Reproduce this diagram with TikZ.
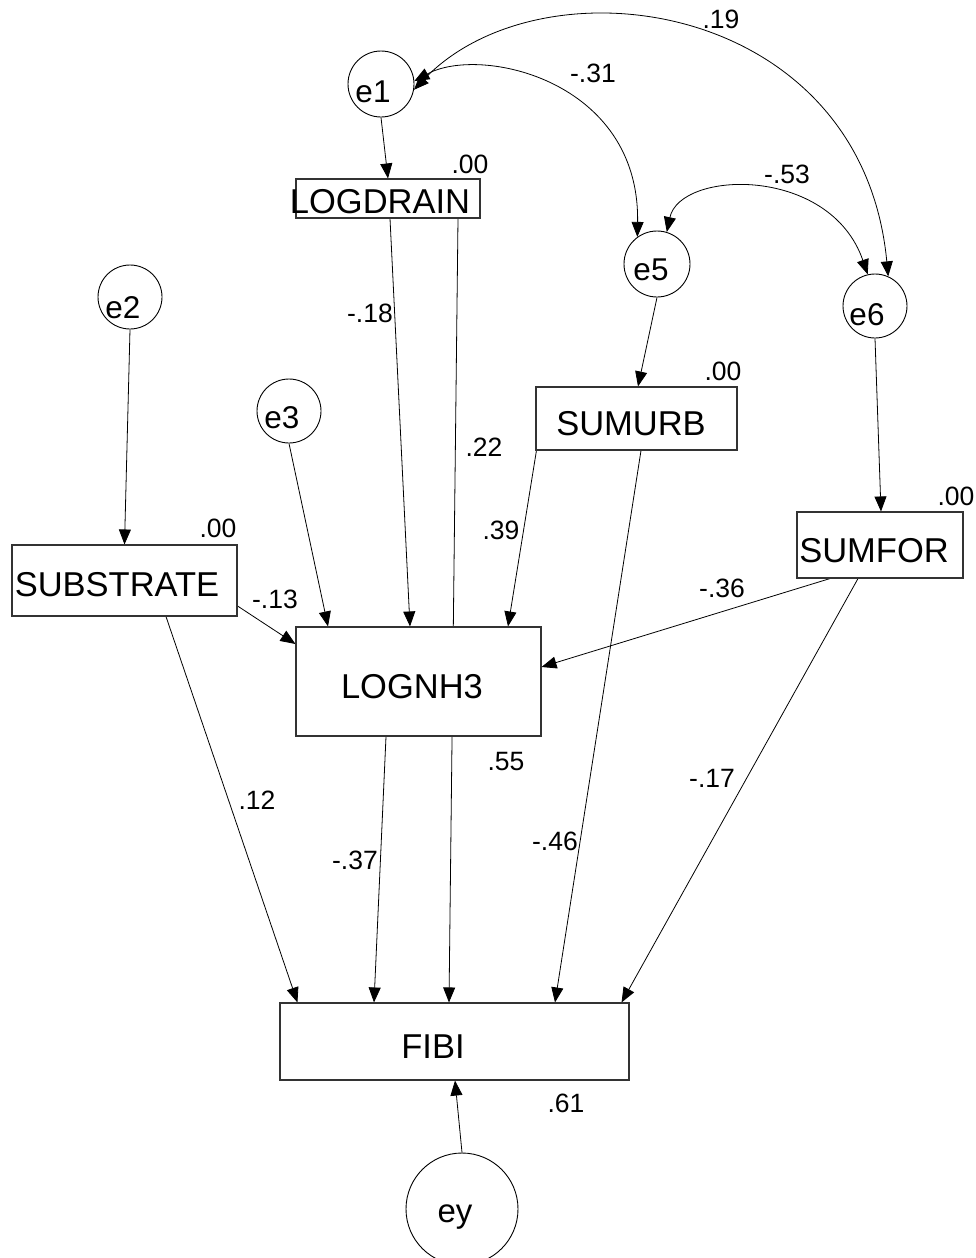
\documentclass[tikz,border=0pt]{standalone}
\usepackage{fontspec}
\setmainfont{Liberation Sans}
\usetikzlibrary{arrows.meta,backgrounds}
\begin{document}
\begin{tikzpicture}[x=1pt,y=-1pt,
  box/.style={draw=black!80, line width=1.1pt, fill=white, inner sep=0pt, rectangle},
  err/.style={draw, circle, line width=0.9pt, fill=white, inner sep=0pt},
  arr/.style={line width=0.8pt, -{Triangle[length=15pt,width=12pt]}},
  dbl/.style={line width=0.8pt, {Triangle[length=15pt,width=12pt]}-{Triangle[length=15pt,width=12pt]}},
  var/.style={font=\fontsize{34.5}{40}\selectfont, anchor=base, inner sep=0pt},
  ename/.style={font=\fontsize{31.5}{36}\selectfont, anchor=base, inner sep=0pt},
  coef/.style={font=\fontsize{26.5}{30}\selectfont, anchor=base, inner sep=0pt}]
\useasboundingbox (0,0) rectangle (976,1258);

% boxes
\node[box, minimum width=184pt, minimum height=39pt] (logdrain) at (388,198.5) {};
\node[box, minimum width=201pt, minimum height=63pt] (sumurb) at (636.5,418.5) {};
\node[box, minimum width=166pt, minimum height=66pt] (sumfor) at (880,545) {};
\node[box, minimum width=225pt, minimum height=71pt] (substrate) at (124.5,580.5) {};
\node[box, minimum width=245pt, minimum height=109pt] (lognh3) at (418.5,681.5) {};
\node[box, minimum width=349pt, minimum height=77pt] (fibi) at (454.5,1041.5) {};

% error circles
\node[err, minimum size=66pt] (e1) at (381,84) {};
\node[err, minimum size=64pt] (e2) at (130,297) {};
\node[err, minimum size=64pt] (e3) at (289,411) {};
\node[err, minimum size=66pt] (e5) at (657,264) {};
\node[err, minimum size=64pt] (e6) at (875,306) {};
\node[err, minimum size=112pt] (ey) at (462,1209) {};

% connectors
\begin{scope}[on background layer]
\draw[arr] (e1.south) -- (logdrain.north);
\draw[arr] (e2.south) -- (substrate.north);
\draw[arr] (e3.south) -- ([xshift=-90.5pt]lognh3.north);
\draw[arr] ([xshift=2pt]logdrain.south) -- ([xshift=-8.5pt]lognh3.north);
\draw[arr] ([xshift=70pt]logdrain.south) -- ([xshift=-5.5pt]fibi.north);
\draw[arr] (e5.south) -- ([xshift=1.5pt]sumurb.north);
\draw[arr] ([xshift=1pt]sumurb.south west) -- ([xshift=89.5pt]lognh3.north);
\draw[arr] ([xshift=4.5pt]sumurb.south) -- ([xshift=100.5pt]fibi.north);
\draw[arr] (e6.south) -- ([xshift=1pt]sumfor.north);
\draw[arr] ([xshift=-50pt]sumfor.south) -- ([yshift=14.5pt]lognh3.east);
\draw[arr] ([xshift=-22pt]sumfor.south) -- ([xshift=-8pt]fibi.north east);
\draw[arr] ([yshift=-25.5pt]substrate.east) -- ([yshift=37.5pt]lognh3.west);
\draw[arr] ([xshift=41.5pt]substrate.south) -- ([xshift=18pt]fibi.north west);
\draw[arr] ([xshift=-32.5pt]lognh3.south) -- ([xshift=-80.5pt]fibi.north);
\draw[arr] (ey.north) -- ([xshift=0.5pt]fibi.south);
% covariances
\draw[dbl] (e1.5) .. controls (480,45) and (640,80) .. (e5.126);
\draw[dbl] (e1.-10) .. controls (543,-45) and (862,0) .. (e6.66);
\draw[dbl] (e5.73) .. controls (680,170) and (830,165) .. (e6.103);
\end{scope}

% variable names
\node[var] (tlogdrain) at (380,213) {LOGDRAIN};
\node[var] (tsumurb) at (631,435) {SUMURB};
\node[var] (tsumfor) at (874,562) {SUMFOR};
\node[var] (tsubstrate) at (117,596) {SUBSTRATE};
\node[var] (tlognh3) at (412,698) {LOGNH3};
\node[var] (tfibi) at (433,1058) {FIBI};

\node[ename] (te1) at (373,102) {e1};
\node[ename] (te2) at (123,318) {e2};
\node[ename] (te3) at (282,428) {e3};
\node[ename] (te5) at (651,280) {e5};
\node[ename] (te6) at (867,325) {e6};
\node[ename, font=\fontsize{33}{38}\selectfont] (tey) at (455,1222) {ey};

% coefficients
\node[coef] (c1) at (721,28) {.19};
\node[coef] (c2) at (593,82) {-.31};
\node[coef] (c3) at (470,173) {.00};
\node[coef] (c4) at (787,183) {-.53};
\node[coef] (c5) at (723,380) {.00};
\node[coef] (c6) at (956,505) {.00};
\node[coef] (c7) at (218,537) {.00};
\node[coef] (c8) at (275,608) {-.13};
\node[coef] (c9) at (501,539) {.39};
\node[coef] (c10) at (722,597) {-.36};
\node[coef] (c11) at (506,770) {.55};
\node[coef] (c12) at (555,850) {-.46};
\node[coef] (c13) at (566,1112) {.61};
\node[coef] (c14) at (370,322) {-.18};
\node[coef] (c15) at (484,456) {.22};
\node[coef] (c16) at (257,809) {.12};
\node[coef] (c17) at (355,869) {-.37};
\node[coef] (c18) at (712,787) {-.17};
\end{tikzpicture}
\end{document}
